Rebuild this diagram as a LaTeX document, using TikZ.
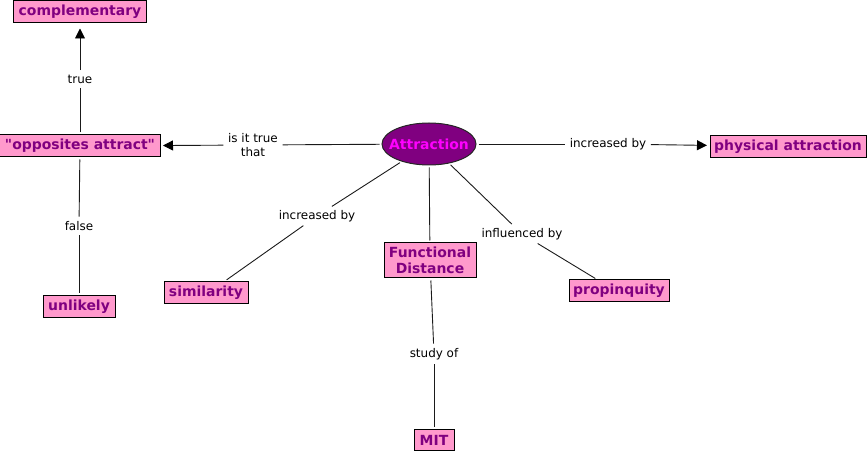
\documentclass[tikz,border=0pt]{standalone}
\usepackage{fontspec}
\setmainfont{DejaVu Sans}
\usetikzlibrary{arrows.meta,shapes.geometric}
\definecolor{cpink}{HTML}{FF99CC}
\definecolor{cpurple}{HTML}{800080}
\definecolor{cmag}{HTML}{FF00FF}
\definecolor{cline}{HTML}{1A1A1A}
\begin{document}
\begin{tikzpicture}[x=1bp,y=-1bp,
  concept/.style={draw=black, line width=1bp, fill=cpink, text=cpurple,
    font=\fontsize{14}{16}\selectfont\bfseries, minimum height=22bp,
    inner xsep=2bp, inner ysep=2bp, align=center},
  hub/.style={ellipse, draw=black!85, line width=1bp, fill=cpurple, text=cmag,
    font=\fontsize{14}{16}\selectfont\bfseries, minimum width=94bp,
    minimum height=42bp, inner sep=0pt},
  lbl/.style={font=\fontsize{12}{14}\selectfont, text=black, inner sep=2.5bp, align=center},
  link/.style={draw=cline, line width=0.9bp, shorten <=2bp, shorten >=2bp},
  arr/.style={link, -{Triangle[length=10bp,width=10bp,color=black]}, shorten >=2.5bp}
]
\useasboundingbox (0,0) rectangle (867,451);
% concepts
\node[concept, minimum width=132bp] (comp) at (80,12) {complementary};
\node[concept, minimum width=160bp] (opp) at (80,146) {\textquotedbl opposites attract\textquotedbl};
\node[concept, minimum width=72bp] (unlikely) at (79,306.5) {unlikely};
\node[concept, minimum width=84bp] (sim) at (206,292.5) {similarity};
\node[concept, minimum width=92bp, minimum height=35bp] (fd) at (430,260.5) {Functional\\Distance};
\node[concept, minimum width=100bp] (prop) at (619,291) {propinquity};
\node[concept, minimum width=40bp, minimum height=21bp] (mit) at (434,440) {MIT};
\node[concept, minimum width=156bp] (phys) at (788,146.5) {physical attraction};
\node[hub] (att) at (429,144) {\makebox[0pt]{Attraction}};
% linking phrases
\node[lbl] (ltrue) at (80,79) {true};
\node[lbl] (lis) at (253,145) {is it true\\that};
\node[lbl] (linc1) at (608,144) {increased by};
\node[lbl] (lfalse) at (79,226) {false};
\node[lbl] (linc2) at (317,216) {increased by};
\node[lbl] (linf) at (522,234) {influenced by};
\node[lbl] (lstudy) at (434,354) {study of};
% connectors
\draw[link] (opp) -- (ltrue);
\draw[arr, shorten >=5bp] (ltrue) -- (comp);
\draw[link] (att) -- (lis);
\draw[arr] (lis) -- (opp);
\draw[link] (att) -- (linc1);
\draw[arr] (linc1) -- (phys);
\draw[link] (opp) -- (lfalse);
\draw[link] (lfalse) -- (unlikely);
\draw[link] (att) -- (linc2);
\draw[link] (linc2) -- ([xshift=19bp]sim.north);
\draw[link] (att) -- (fd);
\draw[link] (att) -- (linf);
\draw[link] (linf) -- ([xshift=-22bp]prop.north);
\draw[link] (fd) -- (lstudy);
\draw[link] (lstudy) -- (mit);
\end{tikzpicture}
\end{document}
